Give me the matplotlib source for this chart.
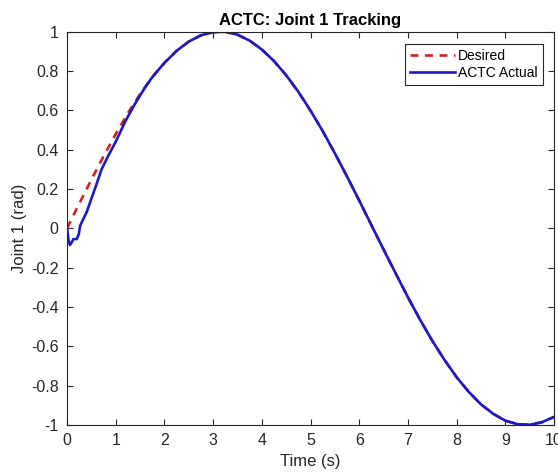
import matplotlib
matplotlib.use('Agg')
from matplotlib import pyplot as plt
import numpy as np

plt.rcParams['font.family'] = ['Liberation Sans', 'DejaVu Sans']

# desired trajectory, every 0.25 s
t_des = [0.0, 0.25, 0.5, 0.75, 1.0, 1.25, 1.5, 1.75, 2.0, 2.25, 2.5, 2.75,
         3.0, 3.25, 3.5, 3.75, 4.0, 4.25, 4.5, 4.75, 5.0, 5.25, 5.5, 5.75,
         6.0, 6.25, 6.5, 6.75, 7.0, 7.25, 7.5, 7.75, 8.0, 8.25, 8.5, 8.75,
         9.0, 9.25, 9.5, 9.75, 10.0]
q_des = [0.0, 0.125, 0.247, 0.366, 0.479, 0.585, 0.682, 0.768, 0.841, 0.902,
         0.949, 0.981, 0.997, 0.999, 0.984, 0.954, 0.909, 0.850, 0.778, 0.694,
         0.598, 0.494, 0.381, 0.263, 0.141, 0.016, -0.108, -0.230, -0.351,
         -0.465, -0.572, -0.669, -0.757, -0.832, -0.895, -0.943, -0.978,
         -0.996, -0.999, -0.986, -0.959]

# actual response (transient at start, then on top of desired)
t_act = [0.0, 0.03, 0.06, 0.1, 0.13, 0.2, 0.24, 0.27, 0.33, 0.4, 0.5, 0.6,
         0.71, 0.85, 1.0, 1.2, 1.4, 1.6, 1.75, 2.0, 2.25, 2.5, 2.75,
         3.0, 3.25, 3.5, 3.75, 4.0, 4.25, 4.5, 4.75, 5.0, 5.25, 5.5, 5.75,
         6.0, 6.25, 6.5, 6.75, 7.0, 7.25, 7.5, 7.75, 8.0, 8.25, 8.5, 8.75,
         9.0, 9.25, 9.5, 9.75, 10.0]
q_act = [0.005, -0.06, -0.085, -0.07, -0.055, -0.055, -0.03, 0.013, 0.045,
         0.08, 0.15, 0.22, 0.30, 0.37, 0.44, 0.545, 0.635, 0.715, 0.768,
         0.841, 0.902, 0.949, 0.981, 0.997, 0.999, 0.984, 0.954, 0.909, 0.850,
         0.778, 0.694, 0.598, 0.494, 0.381, 0.263, 0.141, 0.016, -0.108,
         -0.230, -0.351, -0.465, -0.572, -0.669, -0.757, -0.832, -0.895,
         -0.943, -0.978, -0.996, -0.999, -0.986, -0.959]

xticks = list(range(0, 11))
yticks = [-1, -0.8, -0.6, -0.4, -0.2, 0, 0.2, 0.4, 0.6, 0.8, 1]
ytick_labels = ['-1', '-0.8', '-0.6', '-0.4', '-0.2', '0', '0.2', '0.4', '0.6', '0.8', '1']

fig = plt.figure(figsize=(5.58, 4.74), dpi=100)
ax = fig.add_axes([0.1201, 0.1034, 0.8728, 0.830])

ax.plot(t_des, q_des, color='#d62020', linestyle=(0, (3, 2.5)), linewidth=1.9, label='Desired')
ax.plot(t_act, q_act, color='#1a1acc', linewidth=1.9, label='ACTC Actual')

ax.set_xlim(0, 10)
ax.set_ylim(-1, 1)
ax.set_xticks(xticks)
ax.set_yticks(yticks)
ax.set_yticklabels(ytick_labels)

gray = '#262626'
for s in ax.spines.values():
    s.set_color(gray)
    s.set_linewidth(0.8)
ax.tick_params(direction='in', top=True, right=True, labelsize=11.5,
               colors=gray, length=4, width=0.8, pad=6)

ax.set_xlabel('Time (s)', fontsize=12, color=gray, labelpad=4)
ax.set_ylabel('Joint 1 (rad)', fontsize=12, color=gray, labelpad=3)
ax.set_title('ACTC: Joint 1 Tracking', fontsize=12, fontweight='bold', pad=5)

leg = ax.legend(loc='upper right', bbox_to_anchor=(0.977, 0.9695), fancybox=False,
                framealpha=1, edgecolor=gray, fontsize=10, handlelength=3.2,
                borderaxespad=0, borderpad=0.4, handletextpad=0.2, labelspacing=0.2)
leg.get_frame().set_linewidth(0.8)

fig.savefig('out.png', dpi=100)
